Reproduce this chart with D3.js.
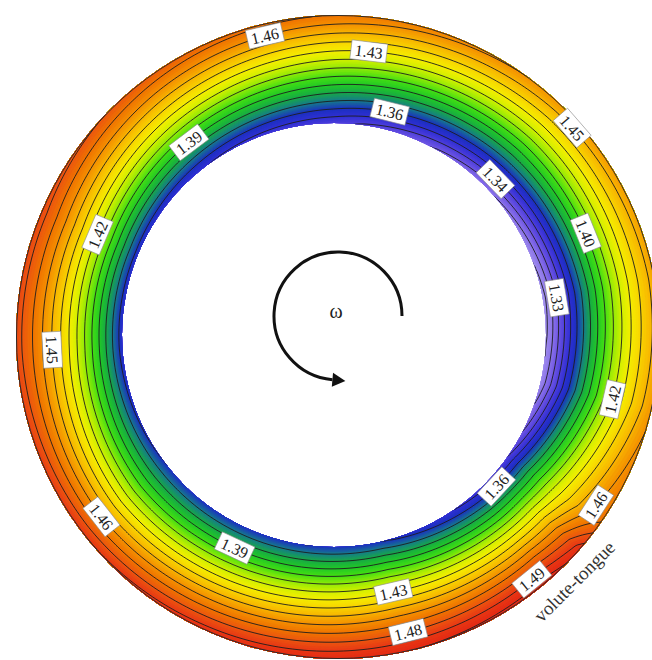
<!DOCTYPE html>
<html>
<head>
<meta charset="utf-8">
<script src="https://cdn.jsdelivr.net/npm/d3@7"></script>
<style>
  html, body { margin: 0; padding: 0; background: #fff; }
  svg { display: block; }
</style>
</head>
<body>
<svg id="chart" width="652" height="660"></svg>
<script>
// Circumferential stations (degrees, counter-clockwise from +x, starting at the volute tongue)
const stationAngles = [-35, -13, 10, 45, 90, 127, 157, 183, 218, 245, 283, 312, 319, 325];
// Total pressure ratio at hub side (s=0), mid passage (s=0.5) and casing side (s=1)
const hubRatio    = [1.340, 1.312, 1.305, 1.322, 1.342, 1.350, 1.355, 1.355, 1.360, 1.360, 1.360, 1.346, 1.343, 1.340];
const midRatio    = [1.422, 1.400, 1.395, 1.398, 1.409, 1.420, 1.430, 1.430, 1.425, 1.430, 1.436, 1.430, 1.428, 1.422];
const casingRatio = [1.470, 1.458, 1.455, 1.458, 1.470, 1.478, 1.485, 1.485, 1.490, 1.495, 1.500, 1.505, 1.496, 1.470];

// Iso-lines
const lineLevels = [1.30, 1.31, 1.32, 1.33, 1.34, 1.35, 1.36, 1.37, 1.38, 1.39, 1.40,
                    1.41, 1.42, 1.43, 1.44, 1.45, 1.46, 1.47, 1.48, 1.49, 1.50];

// Colour map
const colorLevels = [1.28, 1.30, 1.32, 1.33, 1.34, 1.35, 1.36, 1.37, 1.38, 1.39, 1.40,
                     1.41, 1.42, 1.43, 1.44, 1.45, 1.46, 1.47, 1.48, 1.49, 1.50, 1.52];
const colorHexes  = ["#c0b6f4", "#b0a2f0", "#8c74ea", "#7058e4", "#5040dc", "#3030d4", "#1c30c0",
                     "#167a8c", "#18a848", "#22c828", "#44de14", "#90ea08", "#d0f000", "#f4ee00",
                     "#f8d400", "#f8b400", "#f49000", "#f07400", "#ec5610", "#e83814", "#e42a14", "#e02010"];

// Contour labels: level and the angle (deg) where each one sits
const labelLevels = [1.46, 1.43, 1.36, 1.39, 1.45, 1.34, 1.40, 1.33, 1.42, 1.36, 1.46, 1.49,
                     1.42, 1.45, 1.46, 1.39, 1.43, 1.48];
const labelAngles = [103, 83, 76, 127, 41, 44, 22, 9.5, -13, -43, -33, -51,
                     157, 183, 218, 245, 283, 284];

// ---- geometry ----
const W = 652, H = 660;
const hubC = [334, 335], hubR = 212;      // impeller outlet circle
const casC = [338, 337], casR = 322;      // volute casing circle

const hubScale = d3.scaleLinear().domain(stationAngles).range(hubRatio);
const midScale = d3.scaleLinear().domain(stationAngles).range(midRatio);
const casScale = d3.scaleLinear().domain(stationAngles).range(casingRatio);

function wrapAngle(a) {
  while (a < -35) a += 360;
  while (a >= 325) a -= 360;
  return a;
}

// distance from hub centre to the casing along unit vector (ux, uy) in screen space
function casingDist(ux, uy) {
  const wx = hubC[0] - casC[0], wy = hubC[1] - casC[1];
  const b = ux * wx + uy * wy;
  const c = wx * wx + wy * wy - casR * casR;
  return -b + Math.sqrt(b * b - c);
}

function ratioAt(thetaDeg, s) {
  const a = wrapAngle(thetaDeg);
  const v0 = hubScale(a), v5 = midScale(a), v1 = casScale(a);
  s = Math.max(0, Math.min(1, s));
  return v0 * 2 * (s - 0.5) * (s - 1) - v5 * 4 * s * (s - 1) + v1 * 2 * s * (s - 0.5);
}

function fieldAt(x, y) {
  const dx = x - hubC[0], dy = y - hubC[1];
  const r = Math.hypot(dx, dy) || 1e-6;
  const ux = dx / r, uy = dy / r;
  const t = casingDist(ux, uy);
  const s = (r - hubR) / (t - hubR);
  const th = Math.atan2(-dy, dx) * 180 / Math.PI;
  return ratioAt(th, s);
}

// ---- sample the field ----
const step = 2;
const nx = Math.ceil(690 / step), ny = Math.ceil(690 / step);
const values = new Float64Array(nx * ny);
for (let j = 0; j < ny; j++) {
  for (let i = 0; i < nx; i++) {
    values[j * nx + i] = fieldAt((i + 0.5) * step, (j + 0.5) * step);
  }
}

const color = d3.scaleLinear().domain(colorLevels).range(colorHexes)
  .interpolate(d3.interpolateRgb).clamp(true);

const svg = d3.select("#chart");
const defs = svg.append("defs");
const ringPath = d3.path();
ringPath.moveTo(casC[0] + casR, casC[1]);
ringPath.arc(casC[0], casC[1], casR, 0, 2 * Math.PI);
ringPath.moveTo(hubC[0] + hubR, hubC[1]);
ringPath.arc(hubC[0], hubC[1], hubR, 0, 2 * Math.PI);
defs.append("clipPath").attr("id", "ring")
  .append("path").attr("d", ringPath.toString()).attr("clip-rule", "evenodd");

const geo = d3.geoPath(d3.geoIdentity().scale(step));
const plot = svg.append("g").attr("clip-path", "url(#ring)");

// smooth-looking shading from finely spaced filled bands
const fillStep = 0.0025;
const fillThresholds = d3.range(1.28, 1.53, fillStep);
const bands = d3.contours().size([nx, ny]).thresholds(fillThresholds)(values);
plot.append("g").selectAll("path").data(bands).join("path")
  .attr("d", geo)
  .attr("fill", d => color(d.value + fillStep / 2))
  .attr("stroke", d => color(d.value + fillStep / 2))
  .attr("stroke-width", 0.4);

// iso-lines
const isoLines = d3.contours().size([nx, ny]).thresholds(lineLevels)(values);
plot.append("g").selectAll("path").data(isoLines).join("path")
  .attr("d", geo)
  .attr("fill", "none")
  .attr("stroke", "#1e1e1e")
  .attr("stroke-width", 0.9);

// casing outline
svg.append("circle").attr("cx", casC[0]).attr("cy", casC[1]).attr("r", casR - 0.5)
  .attr("fill", "none").attr("stroke", "#2a2a2a").attr("stroke-width", 1);

// ---- contour labels ----
function labelPoint(level, thetaDeg) {
  const th = thetaDeg * Math.PI / 180;
  const ux = Math.cos(th), uy = -Math.sin(th);
  const t = casingDist(ux, uy);
  let lo = 0, hi = 1;
  const rising = ratioAt(thetaDeg, 1) > ratioAt(thetaDeg, 0);
  for (let k = 0; k < 40; k++) {
    const mid = (lo + hi) / 2;
    const v = ratioAt(thetaDeg, mid);
    if ((v < level) === rising) lo = mid; else hi = mid;
  }
  const s = (lo + hi) / 2;
  const r = hubR + s * (t - hubR);
  let rot = 90 - thetaDeg;
  while (rot > 90) rot -= 180;
  while (rot <= -90) rot += 180;
  return { x: hubC[0] + r * ux, y: hubC[1] + r * uy, rot };
}

const fmt = d3.format(".2f");
const labelData = labelLevels.map((v, i) => Object.assign({ v }, labelPoint(v, labelAngles[i])));
const labels = svg.append("g").selectAll("g").data(labelData).join("g")
  .attr("transform", d => `translate(${d.x},${d.y}) rotate(${d.rot})`);
labels.append("rect")
  .attr("x", -18).attr("y", -9.5).attr("width", 36).attr("height", 19)
  .attr("fill", "#ffffff").attr("stroke", "#8a8a8a").attr("stroke-width", 0.6);
labels.append("text")
  .attr("text-anchor", "middle").attr("dy", "0.36em")
  .attr("font-family", "'Liberation Serif', 'DejaVu Serif', serif")
  .attr("font-size", 16).attr("fill", "#222")
  .text(d => fmt(d.v));

// ---- rotation arrow ----
const arrowC = [338, 316], arrowR = 64;
const endAng = 95 * Math.PI / 180;
const arc = d3.path();
arc.moveTo(arrowC[0] + arrowR, arrowC[1]);
arc.arc(arrowC[0], arrowC[1], arrowR, 0, endAng - 2 * Math.PI, true);
svg.append("path").attr("d", arc.toString())
  .attr("fill", "none").attr("stroke", "#111").attr("stroke-width", 3);
const ex = arrowC[0] + arrowR * Math.cos(endAng), ey = arrowC[1] + arrowR * Math.sin(endAng);
const tx = Math.sin(endAng), ty = -Math.cos(endAng);
const nxv = -ty, nyv = tx;
svg.append("path")
  .attr("d", `M${ex + tx * 13},${ey + ty * 13} L${ex + nxv * 7},${ey + nyv * 7} L${ex - nxv * 7},${ey - nyv * 7} Z`)
  .attr("fill", "#111");
svg.append("text").attr("x", 336).attr("y", 318)
  .attr("text-anchor", "middle")
  .attr("font-family", "'Liberation Serif', 'DejaVu Serif', serif")
  .attr("font-size", 20).attr("fill", "#222").text("ω");

// tongue annotation
svg.append("text")
  .attr("transform", "translate(579,586) rotate(-45)")
  .attr("text-anchor", "middle")
  .attr("font-family", "'Liberation Serif', 'DejaVu Serif', serif")
  .attr("font-size", 19).attr("fill", "#333").text("volute-tongue");
</script>
</body>
</html>
